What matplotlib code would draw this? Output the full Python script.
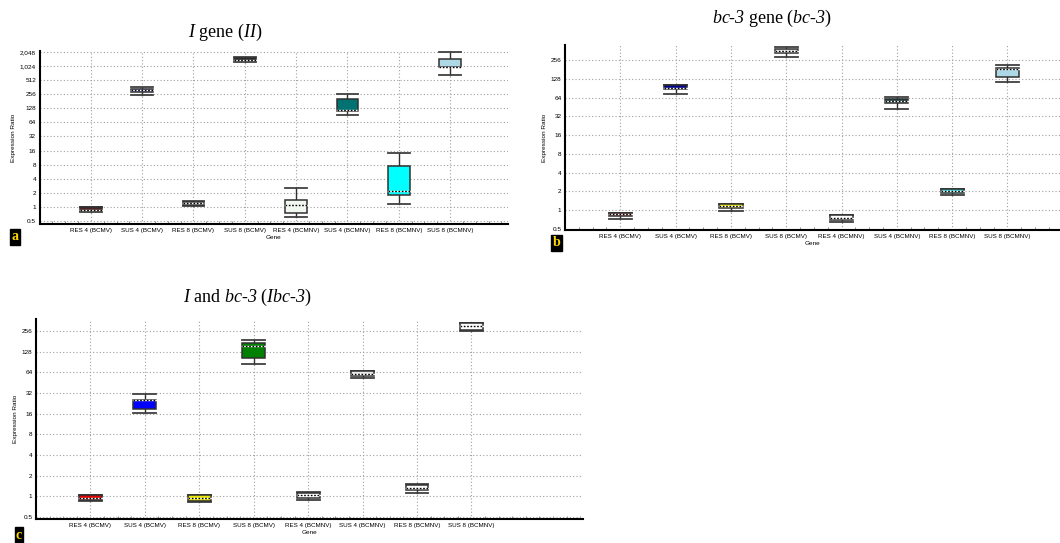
import matplotlib
matplotlib.use('Agg')
import matplotlib.pyplot as plt
from matplotlib.ticker import FixedLocator, NullFormatter

plt.rcParams['font.family'] = ['Liberation Sans', 'DejaVu Sans']
plt.rcParams['mathtext.fontset'] = 'custom'
# every math piece of the titles is italic, digits included
plt.rcParams['mathtext.rm'] = 'Liberation Serif:italic'
plt.rcParams['mathtext.it'] = 'Liberation Serif:italic'

# categories shared by all panels
genes = ['RES 4 (BCMV)', 'SUS 4 (BCMV)', 'RES 8 (BCMV)', 'SUS 8 (BCMV)',
         'RES 4 (BCMNV)', 'SUS 4 (BCMNV)', 'RES 8 (BCMNV)', 'SUS 8 (BCMNV)']

# panel a: I gene (II)
a_whislo = [0.76, 252, 1.03, 1265, 0.61, 94, 1.16, 671]
a_q1 = [0.80, 288, 1.07, 1285, 0.73, 110, 1.8, 957]
a_med = [0.86, 317, 1.18, 1372, 1.07, 117, 2.18, 975]
a_q3 = [0.97, 338, 1.28, 1540, 1.43, 201, 7.4, 1466]
a_whishi = [1.0, 373, 1.36, 1616, 2.57, 256, 14.4, 2030]
a_colors = ['#4a2424', '#1a1aa0', '#f4f4f4', '#202020',
            '#f0f8f0', '#007272', '#00ffff', '#add8e6']

# panel b: bc-3 gene (bc-3)
b_whislo = [0.71, 73.7, 0.98, 290, 0.63, 42.8, 1.74, 115]
b_q1 = [0.79, 87.6, 1.08, 340, 0.68, 52.7, 1.88, 138]
b_med = [0.85, 93, 1.16, 367, 0.75, 56.0, 2.02, 188]
b_q3 = [0.895, 104, 1.26, 396, 0.82, 60.5, 2.15, 196]
b_whishi = [0.895, 104, 1.26, 415, 0.84, 66, 2.15, 218]
b_colors = ['#8b0000', '#00008b', '#f0f000', '#e4e4e4',
            '#ffffff', '#0a3c3c', '#30d0d0', '#add8e6']

# panel c: I and bc-3 (Ibc-3)
c_whislo = [0.855, 16.3, 0.84, 85, 0.875, 52.5, 1.12, 256]
c_q1 = [0.875, 18.6, 0.855, 104, 0.946, 56.2, 1.25, 268]
c_med = [0.955, 25.0, 0.955, 157, 1.03, 60.8, 1.34, 301]
c_q3 = [1.06, 25.5, 1.06, 174, 1.12, 67.2, 1.46, 335]
c_whishi = [1.06, 31.1, 1.06, 190, 1.14, 67.2, 1.51, 339]
c_colors = ['#e00000', '#0000ff', '#e8e800', '#008000',
            '#ffffff', '#e8e8e8', '#ffffff', '#ffffff']

a_ticks = [0.5, 1, 2, 4, 8, 16, 32, 64, 128, 256, 512, 1024, 2048]
a_ticklabels = ['0.5', '1', '2', '4', '8', '16', '32', '64', '128', '256', '512', '1,024', '2,048']
bc_ticks = [0.5, 1, 2, 4, 8, 16, 32, 64, 128, 256]
bc_ticklabels = ['0.5', '1', '2', '4', '8', '16', '32', '64', '128', '256']


def draw_panel(ax, whislo, q1, med, q3, whishi, colors, ticks, ticklabels, ylim, xlim):
    stats = []
    for i in range(len(genes)):
        stats.append({'whislo': whislo[i], 'q1': q1[i], 'med': med[i],
                      'q3': q3[i], 'whishi': whishi[i], 'fliers': [],
                      'label': genes[i]})
    pos = list(range(1, len(genes) + 1))
    res = ax.bxp(stats, positions=pos, widths=0.42, capwidths=0.42,
                 patch_artist=True, showfliers=False,
                 boxprops=dict(edgecolor='#303030', linewidth=1.1),
                 whiskerprops=dict(color='#303030', linewidth=1.0),
                 capprops=dict(color='#404040', linewidth=1.3),
                 medianprops=dict(color='black', linewidth=1.0, linestyle=(0, (1.2, 1.2))))
    for box, col in zip(res['boxes'], colors):
        box.set_facecolor(col)
        box.set_zorder(3)
    # white under the dotted median so it shows on dark boxes
    for line in res['medians']:
        xs, ys = line.get_data()
        ax.plot(xs, ys, color='white', linewidth=1.0, zorder=3.5)
        line.set_zorder(4)
    for w in res['whiskers'] + res['caps']:
        w.set_zorder(2.5)

    ax.set_yscale('log')
    ax.set_ylim(*ylim)
    ax.set_xlim(*xlim)
    ax.yaxis.set_major_locator(FixedLocator(ticks))
    ax.yaxis.set_minor_locator(FixedLocator([]))
    ax.set_yticklabels(ticklabels)
    ax.yaxis.set_minor_formatter(NullFormatter())
    ax.set_xticks(pos)
    ax.set_xticklabels(genes)
    ax.xaxis.set_minor_locator(FixedLocator([k * 0.25 for k in range(int(xlim[1] * 4) + 1)]))
    ax.tick_params(axis='x', which='major', length=0, pad=3, labelsize=4.5)
    ax.tick_params(axis='x', which='minor', length=2, direction='in', width=0.5, color='#606060')
    ax.tick_params(axis='y', which='major', length=0, pad=2.5, labelsize=4.6)
    ax.grid(True, which='major', color='#a0a0a0', linestyle=(0, (1, 2)), linewidth=0.8)
    ax.set_axisbelow(True)
    for s in ['top', 'right']:
        ax.spines[s].set_visible(False)
    for s in ['left', 'bottom']:
        ax.spines[s].set_linewidth(1.5)
        ax.spines[s].set_color('black')
    ax.set_ylabel('Expression Ratio', fontsize=4.6, labelpad=3)
    ax.set_xlabel('Gene', fontsize=4.6, labelpad=1)


fig = plt.figure(figsize=(10.6, 5.43), dpi=100)

ax_a = fig.add_axes([0.0373, 0.5875, 0.442, 0.3186])
draw_panel(ax_a, a_whislo, a_q1, a_med, a_q3, a_whishi, a_colors,
           a_ticks, a_ticklabels, (0.43, 2150), (0, 9.13))

ax_b = fig.add_axes([0.533, 0.5764, 0.467, 0.3407])
draw_panel(ax_b, b_whislo, b_q1, b_med, b_q3, b_whishi, b_colors,
           bc_ticks, bc_ticklabels, (0.476, 451), (0, 8.95))

ax_c = fig.add_axes([0.034, 0.0442, 0.516, 0.368])
draw_panel(ax_c, c_whislo, c_q1, c_med, c_q3, c_whishi, c_colors,
           bc_ticks, bc_ticklabels, (0.467, 383), (0, 10.05))

title_kw = dict(ha='center', va='center', fontsize=13, family='Liberation Serif')
fig.text(0.212, 0.941, r'$I$ gene ($II$)', **title_kw)
fig.text(0.728, 0.966, r'$bc$-$3$ gene ($bc$-$3$)', **title_kw)
fig.text(0.233, 0.453, r'$I$ and $bc$-$3$ ($Ibc$-$3$)', **title_kw)

label_kw = dict(ha='center', va='center', fontsize=10, fontweight='bold',
                family='Liberation Serif', color='#ffd700',
                bbox=dict(boxstyle='square,pad=0.1', facecolor='black', edgecolor='black'))
fig.text(0.0142, 0.564, 'a', **label_kw)
fig.text(0.525, 0.553, 'b', **label_kw)
fig.text(0.0179, 0.0147, 'c', **label_kw)

fig.savefig('out.png', dpi=100)
